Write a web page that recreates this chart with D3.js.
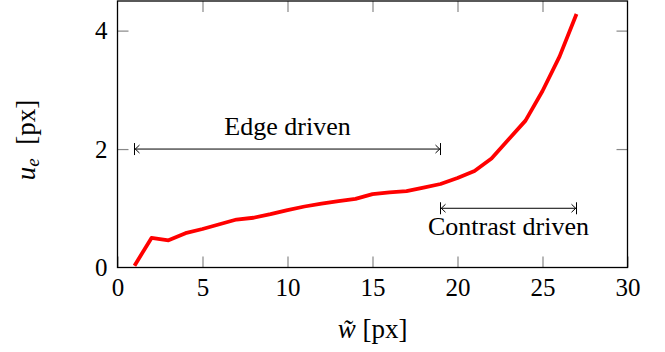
<!DOCTYPE html>
<html>
<head>
<meta charset="utf-8">
<script src="https://cdn.jsdelivr.net/npm/d3@7"></script>
<style>
  html, body { margin: 0; padding: 0; background: #fff; }
  svg { display: block; }
  svg text { font-family: 'Liberation Serif', 'DejaVu Serif', 'Times New Roman', Times, serif; }
</style>
</head>
<body>
<svg id="chart" width="665" height="352"></svg>
<script>
// Window width w~ (px) and resulting edge displacement u_e (px)
const widths = [1, 2, 3, 4, 5, 6, 7, 8, 9, 10, 11, 12, 13, 14, 15, 16, 17, 18, 19, 20, 21, 22, 23, 24, 25, 26, 27];
const displacement = [0.03, 0.50, 0.46, 0.58, 0.65, 0.73, 0.81, 0.84, 0.90, 0.97, 1.03, 1.08, 1.12, 1.16, 1.24, 1.27, 1.29, 1.35, 1.41, 1.51, 1.63, 1.84, 2.16, 2.48, 2.98, 3.56, 4.28];

const xTicks = [0, 5, 10, 15, 20, 25, 30];
const yTicks = [0, 2, 4];

// Regime annotations: [from, to] along w~, at height u_e
const regimeNames = ["Edge driven", "Contrast driven"];
const regimeSpans = [[1, 19], [19, 27]];
const regimeLevels = [2, 1];

const svg = d3.select("#chart");
const plotLeft = 117.5, plotRight = 627.5, plotTop = 1, plotBottom = 267.5;

const x = d3.scaleLinear().domain([0, 30]).range([plotLeft, plotRight]);
const y = d3.scaleLinear().domain([0, 4.5]).range([plotBottom, plotTop]);

const tickColor = "#888";
const tickLen = 11;

// inward ticks on all four sides
function styleAxis(g, labels) {
  g.attr("font-family", null).attr("font-size", null);
  g.select(".domain").remove();
  g.selectAll(".tick line").attr("stroke", tickColor).attr("stroke-width", 1.2);
  if (labels) {
    g.selectAll(".tick text").attr("fill", "#000").style("font-size", "25px");
  } else {
    g.selectAll(".tick text").remove();
  }
}

svg.append("g").attr("transform", `translate(0,${plotBottom})`)
  .call(d3.axisBottom(x).tickValues(xTicks).tickSize(-tickLen).tickPadding(11).tickFormat(d3.format("d")))
  .call(g => styleAxis(g, true));

svg.append("g").attr("transform", `translate(0,${plotTop})`)
  .call(d3.axisTop(x).tickValues(xTicks.slice(1, -1)).tickSize(-tickLen))
  .call(g => styleAxis(g, false));

svg.append("g").attr("transform", `translate(${plotLeft},0)`)
  .call(d3.axisLeft(y).tickValues(yTicks).tickSize(-tickLen).tickPadding(10).tickFormat(d3.format("d")))
  .call(g => styleAxis(g, true))
  .call(g => g.selectAll(".tick").filter(d => d === 0).select("line").remove());

svg.append("g").attr("transform", `translate(${plotRight},0)`)
  .call(d3.axisRight(y).tickValues(yTicks.slice(1)).tickSize(-tickLen))
  .call(g => styleAxis(g, false));

// frame
svg.append("rect")
  .attr("x", plotLeft).attr("y", plotTop)
  .attr("width", plotRight - plotLeft).attr("height", plotBottom - plotTop)
  .attr("fill", "none").attr("stroke", "#000").attr("stroke-width", 1.3);

// curve
const line = d3.line().x((d, i) => x(widths[i])).y(d => y(d));
svg.append("path")
  .datum(displacement)
  .attr("d", line)
  .attr("fill", "none")
  .attr("stroke", "#ff0000")
  .attr("stroke-width", 3.8)
  .attr("stroke-linejoin", "round");

// regime span arrows  |<---->|
const ann = svg.append("g").attr("stroke", "#000").attr("stroke-width", 1).attr("fill", "none");
regimeSpans.forEach((span, i) => {
  const x0 = x(span[0]), x1 = x(span[1]), yy = y(regimeLevels[i]);
  ann.append("line").attr("x1", x0).attr("x2", x1).attr("y1", yy).attr("y2", yy);
  ann.append("line").attr("x1", x0).attr("x2", x0).attr("y1", yy - 6).attr("y2", yy + 6);
  ann.append("line").attr("x1", x1).attr("x2", x1).attr("y1", yy - 6).attr("y2", yy + 6);
  ann.append("path").attr("d", `M${x0 + 5},${yy - 4} L${x0 + 0.8},${yy} L${x0 + 5},${yy + 4}`);
  ann.append("path").attr("d", `M${x1 - 5},${yy - 4} L${x1 - 0.8},${yy} L${x1 - 5},${yy + 4}`);

  const cx = (x0 + x1) / 2;
  svg.append("text")
    .attr("x", cx)
    .attr("y", i === 0 ? yy - 14 : yy + 27)
    .attr("text-anchor", "middle")
    .style("font-size", "26px")
    .text(regimeNames[i]);
});

// axis titles
const xt = svg.append("text")
  .attr("x", (plotLeft + plotRight) / 2).attr("y", 338)
  .attr("text-anchor", "middle")
  .style("font-size", "27px");
xt.append("tspan").attr("font-style", "italic").text("w\u0303");
xt.append("tspan").text(" [px]");

const yt = svg.append("text")
  .attr("transform", "translate(35,140) rotate(-90)")
  .attr("text-anchor", "middle")
  .style("font-size", "27px");
yt.append("tspan").attr("font-style", "italic").text("u");
yt.append("tspan").attr("font-style", "italic").attr("dy", 4).style("font-size", "19px").text("e");
yt.append("tspan").attr("dy", -4).text("\u2002[px]");
</script>
</body>
</html>
